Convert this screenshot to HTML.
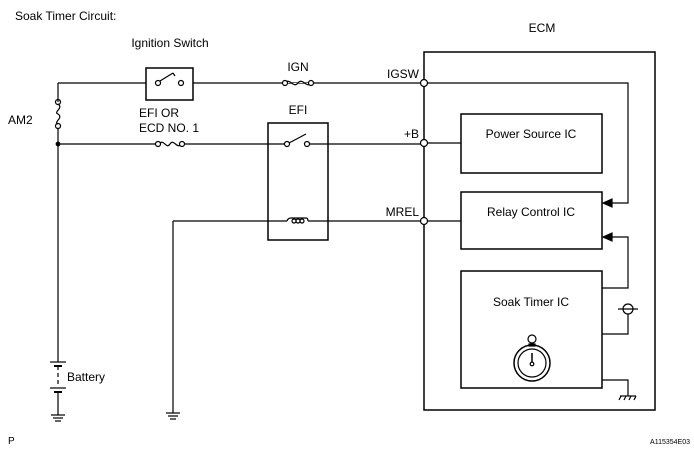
<!DOCTYPE html>
<html><head><meta charset="utf-8"><style>
html,body{margin:0;padding:0;background:#fff;}
svg{display:block;}
text{font-family:"Liberation Sans",Arial,sans-serif;fill:#000;}
</style></head><body>
<svg width="694" height="463" viewBox="0 0 694 463" xmlns="http://www.w3.org/2000/svg">
<g stroke="#000" stroke-width="1.2" fill="none">
<rect x="424" y="52" width="231" height="358" stroke-width="1.5"/>
<polyline points="424,83 628,83 628,203 612,203"/>
<polygon points="603,203 612,199 612,207" fill="#000"/>
<rect x="461" y="114" width="141" height="59" stroke-width="1.5"/>
<rect x="461" y="192" width="141" height="57" stroke-width="1.5"/>
<rect x="461" y="271" width="141" height="117" stroke-width="1.5"/>
<line x1="424" y1="143" x2="461" y2="143"/>
<line x1="424" y1="221" x2="461" y2="221"/>
<polyline points="602,288 628,288 628,237 612,237"/>
<polygon points="603,237 612,233 612,241" fill="#000"/>
<polyline points="602,334 628,334 628,314"/>
<circle cx="628" cy="309" r="5" fill="#fff"/>
<line x1="618" y1="309" x2="638" y2="309"/>
<polyline points="602,380 628,380 628,396"/>
<line x1="620" y1="396" x2="636" y2="396"/>
<line x1="621" y1="396" x2="619" y2="400"/><line x1="626" y1="396" x2="624" y2="400"/><line x1="631" y1="396" x2="629" y2="400"/><line x1="636" y1="396" x2="634" y2="400"/>
<circle cx="532" cy="363" r="18" stroke-width="1.5"/>
<circle cx="532" cy="363" r="14"/>
<rect x="529" y="344" width="6" height="2"/>
<circle cx="532" cy="339" r="4"/>
<line x1="532" y1="353" x2="532" y2="362" stroke-width="1.5"/>
<circle cx="532" cy="364" r="1.8"/>
<polyline points="424,83 193,83"/>
<line x1="146" y1="83" x2="58" y2="83"/>
<line x1="58" y1="83" x2="58" y2="102"/>
<rect x="146" y="68" width="47" height="32" stroke-width="1.5"/>
<circle cx="158" cy="83" r="2.5"/><circle cx="181" cy="83" r="2.5"/>
<line x1="160" y1="81" x2="173" y2="73"/><line x1="173" y1="73" x2="175" y2="76"/>
<path d="M285,83 c5,-6 8,6 13,0 c5,-6 8,6 13,0" fill="#fff"/>
<circle cx="285" cy="83" r="2.5" fill="#fff"/><circle cx="311" cy="83" r="2.5" fill="#fff"/>
<circle cx="58" cy="102" r="2.5"/><circle cx="58" cy="126" r="2.5"/>
<path d="M58,104 c6,4 -5,8 0,10 c6,4 -5,8 0,10"/>
<line x1="58" y1="128" x2="58" y2="362"/>
<circle cx="58" cy="144" r="1.8" fill="#000"/>
<line x1="58" y1="144" x2="157" y2="144"/>
<line x1="183" y1="144" x2="287" y2="144"/>
<line x1="307" y1="144" x2="424" y2="144"/>
<path d="M159,144 c5,-6 7,6 11,0 c4,-6 7,6 11,0"/>
<circle cx="158" cy="144" r="2.5" fill="#fff"/><circle cx="182" cy="144" r="2.5" fill="#fff"/>
<rect x="268" y="123" width="60" height="117" stroke-width="1.5"/>
<circle cx="287" cy="144" r="2.5" fill="#fff"/><circle cx="307" cy="144" r="2.5" fill="#fff"/>
<line x1="289" y1="143" x2="306" y2="134"/>
<line x1="173" y1="221" x2="287" y2="221"/>
<line x1="308" y1="221" x2="424" y2="221"/>
<path d="M287,221 q1,-3 4,-3 h15 q2,0 2,3" />
<circle cx="294" cy="221" r="2"/><circle cx="298" cy="221" r="2"/><circle cx="302" cy="221" r="2"/>
<line x1="173" y1="221" x2="173" y2="413"/>
<line x1="166" y1="413" x2="180" y2="413"/><line x1="168" y1="416" x2="178" y2="416"/><line x1="170" y1="419" x2="176" y2="419"/>
<line x1="50" y1="362" x2="66" y2="362"/>
<line x1="54" y1="366" x2="62" y2="366" stroke-width="2"/>
<line x1="58" y1="366" x2="58" y2="384" stroke-dasharray="4,3"/>
<line x1="50" y1="388" x2="66" y2="388"/>
<line x1="54" y1="392" x2="62" y2="392" stroke-width="2"/>
<line x1="58" y1="392" x2="58" y2="415"/>
<line x1="51" y1="415" x2="65" y2="415"/><line x1="53" y1="418" x2="63" y2="418"/><line x1="55" y1="421" x2="61" y2="421"/>
<circle cx="424" cy="83" r="3.5" fill="#fff"/>
<circle cx="424" cy="143" r="3.5" fill="#fff"/>
<circle cx="424" cy="221" r="3.5" fill="#fff"/>
</g>
<g font-size="12">
<text x="15" y="20">Soak Timer Circuit:</text>
<text x="170" y="47" text-anchor="middle">Ignition Switch</text>
<text x="542" y="32" text-anchor="middle">ECM</text>
<text x="298" y="71" text-anchor="middle">IGN</text>
<text x="419" y="78" text-anchor="end">IGSW</text>
<text x="419" y="138" text-anchor="end">+B</text>
<text x="419" y="216" text-anchor="end">MREL</text>
<text x="298" y="114" text-anchor="middle">EFI</text>
<text x="139" y="117">EFI OR</text>
<text x="139" y="132">ECD NO. 1</text>
<text x="8" y="124">AM2</text>
<text x="67" y="381">Battery</text>
<text x="531" y="138" text-anchor="middle">Power Source IC</text>
<text x="531" y="216" text-anchor="middle">Relay Control IC</text>
<text x="531" y="306" text-anchor="middle">Soak Timer IC</text>
<text x="8" y="444" font-size="10">P</text>
<text x="690" y="444" font-size="7" text-anchor="end">A115354E03</text>
</g>
</svg>
</body></html>
